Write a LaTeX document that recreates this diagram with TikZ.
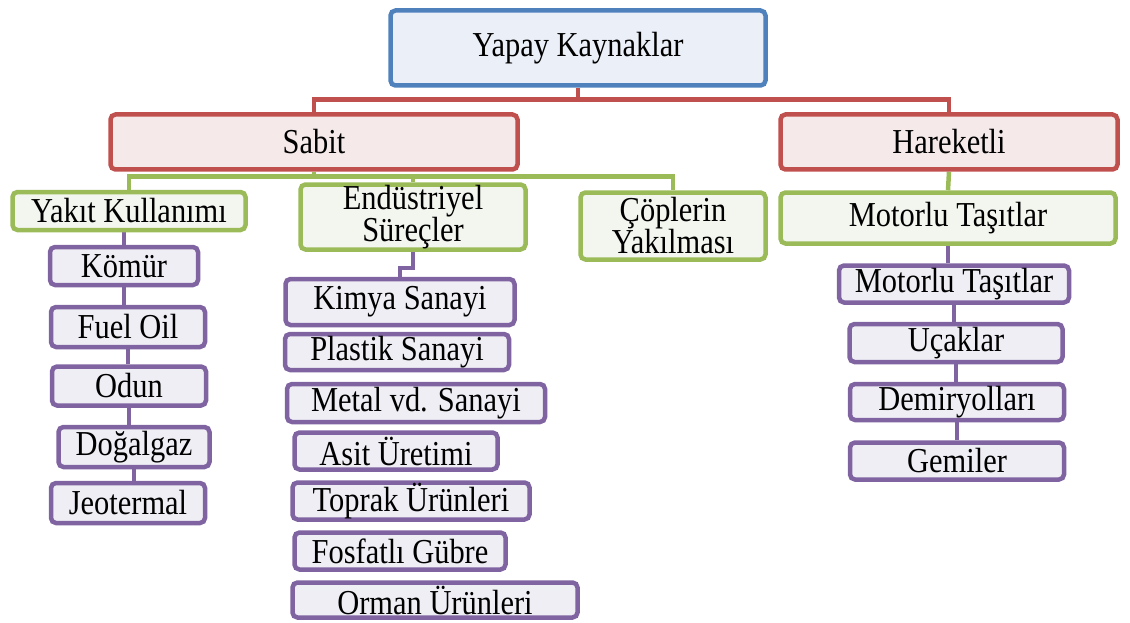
\documentclass[tikz,border=0pt]{standalone}
\usepackage{fontspec}
\setmainfont{Liberation Serif}[FakeStretch=0.87]
\usetikzlibrary{backgrounds}
\definecolor{cblue}{HTML}{4F81BD}
\definecolor{fblue}{HTML}{EBEFF7}
\definecolor{cred}{HTML}{C0504D}
\definecolor{fred}{HTML}{F5E9E9}
\definecolor{cgreen}{HTML}{9BBB59}
\definecolor{fgreen}{HTML}{F3F6EE}
\definecolor{cpurple}{HTML}{8064A2}
\definecolor{fpurple}{HTML}{F0EEF5}
\begin{document}
\begin{tikzpicture}[x=1pt,y=-1pt,
  box/.style={draw, rounded corners=5pt, line width=4.5pt, inner sep=0pt,
    align=center, font=\fontsize{35}{32}\selectfont},
  bluebox/.style={box, draw=cblue, fill=fblue},
  redbox/.style={box, draw=cred, fill=fred},
  greenbox/.style={box, draw=cgreen, fill=fgreen},
  purplebox/.style={box, draw=cpurple, fill=fpurple},
  conn/.style={line width=4.5pt},
  rconn/.style={conn, draw=cred},
  gconn/.style={conn, draw=cgreen},
  pconn/.style={conn, draw=cpurple},
  sz/.style 2 args={minimum width=#1, minimum height=#2}
]
\useasboundingbox (0,0) rectangle (1130,623);

% level 0
\node[bluebox, sz={375}{75}] (top) at (578,48) {Yapay Kaynaklar};
% level 1
\node[redbox, sz={407}{55}] (sabit) at (314,142) {Sabit};
\node[redbox, sz={337}{55}] (hareketli) at (949,142) {Hareketli};
% level 2
\node[greenbox, sz={233}{38}] (yakit) at (129,211) {Yakıt Kullanımı};
\node[greenbox, sz={225}{65}] (endus) at (413,217) {Endüstriyel\\Süreçler};
\node[greenbox, sz={185}{67}] (cop) at (673,226) {Çöplerin\\Yakılması};
\node[greenbox, sz={335}{51}] (motor) at (948,218) {Motorlu Taşıtlar};
% level 3: Yakıt
\node[purplebox, sz={148}{38}] (komur) at (124,266) {Kömür};
\node[purplebox, sz={154}{40}] (fuel) at (128,327) {Fuel Oil};
\node[purplebox, sz={154}{39}] (odun) at (129,386) {Odun};
\node[purplebox, sz={151}{40}] (dogal) at (134,447) {Doğalgaz};
\node[purplebox, sz={154}{40}] (jeo) at (128,503) {Jeotermal};
% level 3: Endüstriyel
\node[purplebox, sz={229}{46}] (kimya) at (400,302) {Kimya Sanayi};
\node[purplebox, sz={224}{36}] (plastik) at (397,352) {Plastik Sanayi};
\node[purplebox, sz={258}{38}] (metal) at (416,403) {Metal vd. Sanayi};
\node[purplebox, sz={203}{37}] (asit) at (396,451) {Asit Üretimi};
\node[purplebox, sz={237}{37}] (toprak) at (411,501) {Toprak Ürünleri};
\node[purplebox, sz={211}{37}] (fosfat) at (400,551) {Fosfatlı Gübre};
\node[purplebox, sz={285}{35}] (orman) at (435,600) {Orman Ürünleri};
% level 3: Motorlu
\node[purplebox, sz={230}{37}] (motor2) at (954,284) {Motorlu Taşıtlar};
\node[purplebox, sz={213}{38}] (ucak) at (956,343) {Uçaklar};
\node[purplebox, sz={214}{36}] (demir) at (957,402) {Demiryolları};
\node[purplebox, sz={214}{37}] (gemi) at (957,461) {Gemiler};

\begin{pgfonlayer}{background}
  \draw[rconn] (top.south) -- ++(0,12) coordinate (tj);
  \draw[rconn] (tj) -| (sabit.north);
  \draw[rconn] (tj) -| (hareketli.north);
  \draw[gconn] (sabit.south) -- ++(0,5) coordinate (sj);
  \draw[gconn] (sj) -| (yakit.north);
  \draw[gconn] (sj) -| (endus.north);
  \draw[gconn] (sj) -| (cop.north);
  \draw[gconn] (hareketli.south) -- (motor.north);
  \draw[pconn] (komur.north) -- (komur.north |- yakit.south);
  \draw[pconn] (komur.south) -- (komur.south |- fuel.north);
  \draw[pconn] (fuel.south) -- (fuel.south |- odun.north);
  \draw[pconn] (odun.south) -- (odun.south |- dogal.north);
  \draw[pconn] (dogal.south) -- (dogal.south |- jeo.north);
  \draw[pconn] (endus.south) -- ++(0,16) -| (kimya.north);
  \draw[pconn] (motor.south) -- (motor.south |- motor2.north);
  \draw[pconn] (motor2.south) -- (motor2.south |- ucak.north);
  \draw[pconn] (ucak.south) -- (ucak.south |- demir.north);
  \draw[pconn] (demir.south) -- (demir.south |- gemi.north);
\end{pgfonlayer}
\end{tikzpicture}
\end{document}
